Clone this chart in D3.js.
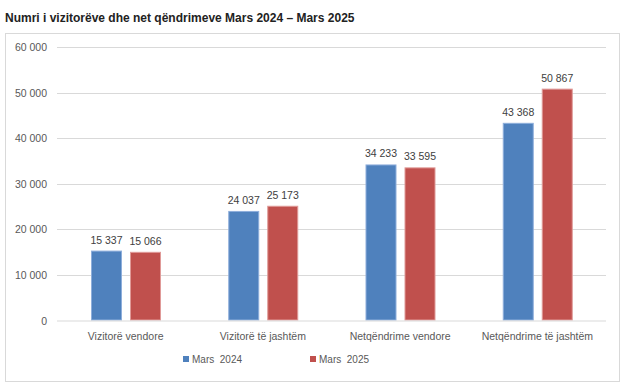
<!DOCTYPE html>
<html>
<head>
<meta charset="utf-8">
<script src="https://cdn.jsdelivr.net/npm/d3@7/dist/d3.min.js"></script>
<style>
  body { margin: 0; background: #fff; }
  svg { display: block; font-family: "Liberation Sans", Arial, sans-serif; }
</style>
</head>
<body>
<svg id="chart" width="632" height="385"></svg>
<script>
// Data
const categories = ["Vizitorë vendore", "Vizitorë të jashtëm", "Netqëndrime vendore", "Netqëndrime të jashtëm"];
const seriesNames = ["Mars  2024", "Mars  2025"];
const values2024 = [15337, 24037, 34233, 43368];
const values2025 = [15066, 25173, 33595, 50867];
const yTicks = [0, 10000, 20000, 30000, 40000, 50000, 60000];

const colors = ["#4f81bd", "#c0504d"];
const strokes = ["#8eaedb", "#e09a98"];

const svg = d3.select("#chart");

// Title
svg.append("text")
    .attr("x", 5)
    .attr("y", 22)
    .attr("font-size", 12)
    .attr("font-weight", "bold")
    .attr("fill", "#222")
    .text("Numri i vizitorëve dhe net qëndrimeve Mars 2024 – Mars 2025");

// Chart frame
svg.append("rect")
    .attr("x", 5.5).attr("y", 33.5)
    .attr("width", 614).attr("height", 348)
    .attr("fill", "#fff")
    .attr("stroke", "#d9d9d9");

const x0 = d3.scaleBand().domain(categories).range([57, 606]);
const x1 = d3.scaleBand().domain([0, 1]).range([34, 34 + 70]).paddingInner(8 / 39);
const y = d3.scaleLinear().domain([0, 60000]).range([320.5, 47]);

const fmt = v => d3.format(",")(v).replace(/,/g, " ");

// Gridlines
svg.append("g").selectAll("line")
    .data(yTicks.filter(t => t > 0))
    .join("line")
    .attr("x1", 57).attr("x2", 606)
    .attr("y1", d => Math.round(y(d)) + 0.5).attr("y2", d => Math.round(y(d)) + 0.5)
    .attr("stroke", "#d9d9d9");

// Y tick labels
svg.append("g").selectAll("text")
    .data(yTicks)
    .join("text")
    .attr("x", 47)
    .attr("y", d => y(d) + 4)
    .attr("text-anchor", "end")
    .attr("font-size", 10.5)
    .attr("fill", "#595959")
    .text(d => fmt(d));

// Bars
const rows = categories.map((c, i) => ({ c, vals: [values2024[i], values2025[i]] }));
const groups = svg.append("g").selectAll("g")
    .data(rows)
    .join("g")
    .attr("transform", d => `translate(${x0(d.c)},0)`);

groups.selectAll("rect")
    .data(d => d.vals.map((v, s) => ({ v, s })))
    .join("rect")
    .attr("x", d => x1(d.s) + 0.5)
    .attr("y", d => y(d.v) + 0.5)
    .attr("width", x1.bandwidth() - 1)
    .attr("height", d => y(0) - y(d.v) - 1)
    .attr("fill", d => colors[d.s])
    .attr("stroke", d => strokes[d.s])
    .attr("stroke-width", 1);

groups.selectAll("text")
    .data(d => d.vals.map((v, s) => ({ v, s })))
    .join("text")
    .attr("x", d => x1(d.s) + x1.bandwidth() / 2)
    .attr("y", d => y(d.v) - 7)
    .attr("text-anchor", "middle")
    .attr("font-size", 10.5)
    .attr("fill", "#404040")
    .text(d => fmt(d.v));

// X axis line
svg.append("line")
    .attr("x1", 57).attr("x2", 606)
    .attr("y1", 321).attr("y2", 321)
    .attr("stroke", "#d9d9d9");

// Category labels
svg.append("g").selectAll("text")
    .data(categories)
    .join("text")
    .attr("x", d => x0(d) + x0.bandwidth() / 2)
    .attr("y", 340)
    .attr("text-anchor", "middle")
    .attr("font-size", 10.5)
    .attr("fill", "#595959")
    .text(d => d);

// Legend
const legendX = [183, 310];
const legend = svg.append("g").selectAll("g")
    .data(seriesNames)
    .join("g")
    .attr("transform", (d, i) => `translate(${legendX[i]},356)`);
legend.append("rect")
    .attr("width", 6).attr("height", 6)
    .attr("fill", (d, i) => colors[i]);
legend.append("text")
    .attr("x", 9).attr("y", 7)
    .attr("font-size", 10)
    .attr("fill", "#595959")
    .attr("xml:space", "preserve")
    .style("white-space", "pre")
    .text(d => d);
</script>
</body>
</html>
